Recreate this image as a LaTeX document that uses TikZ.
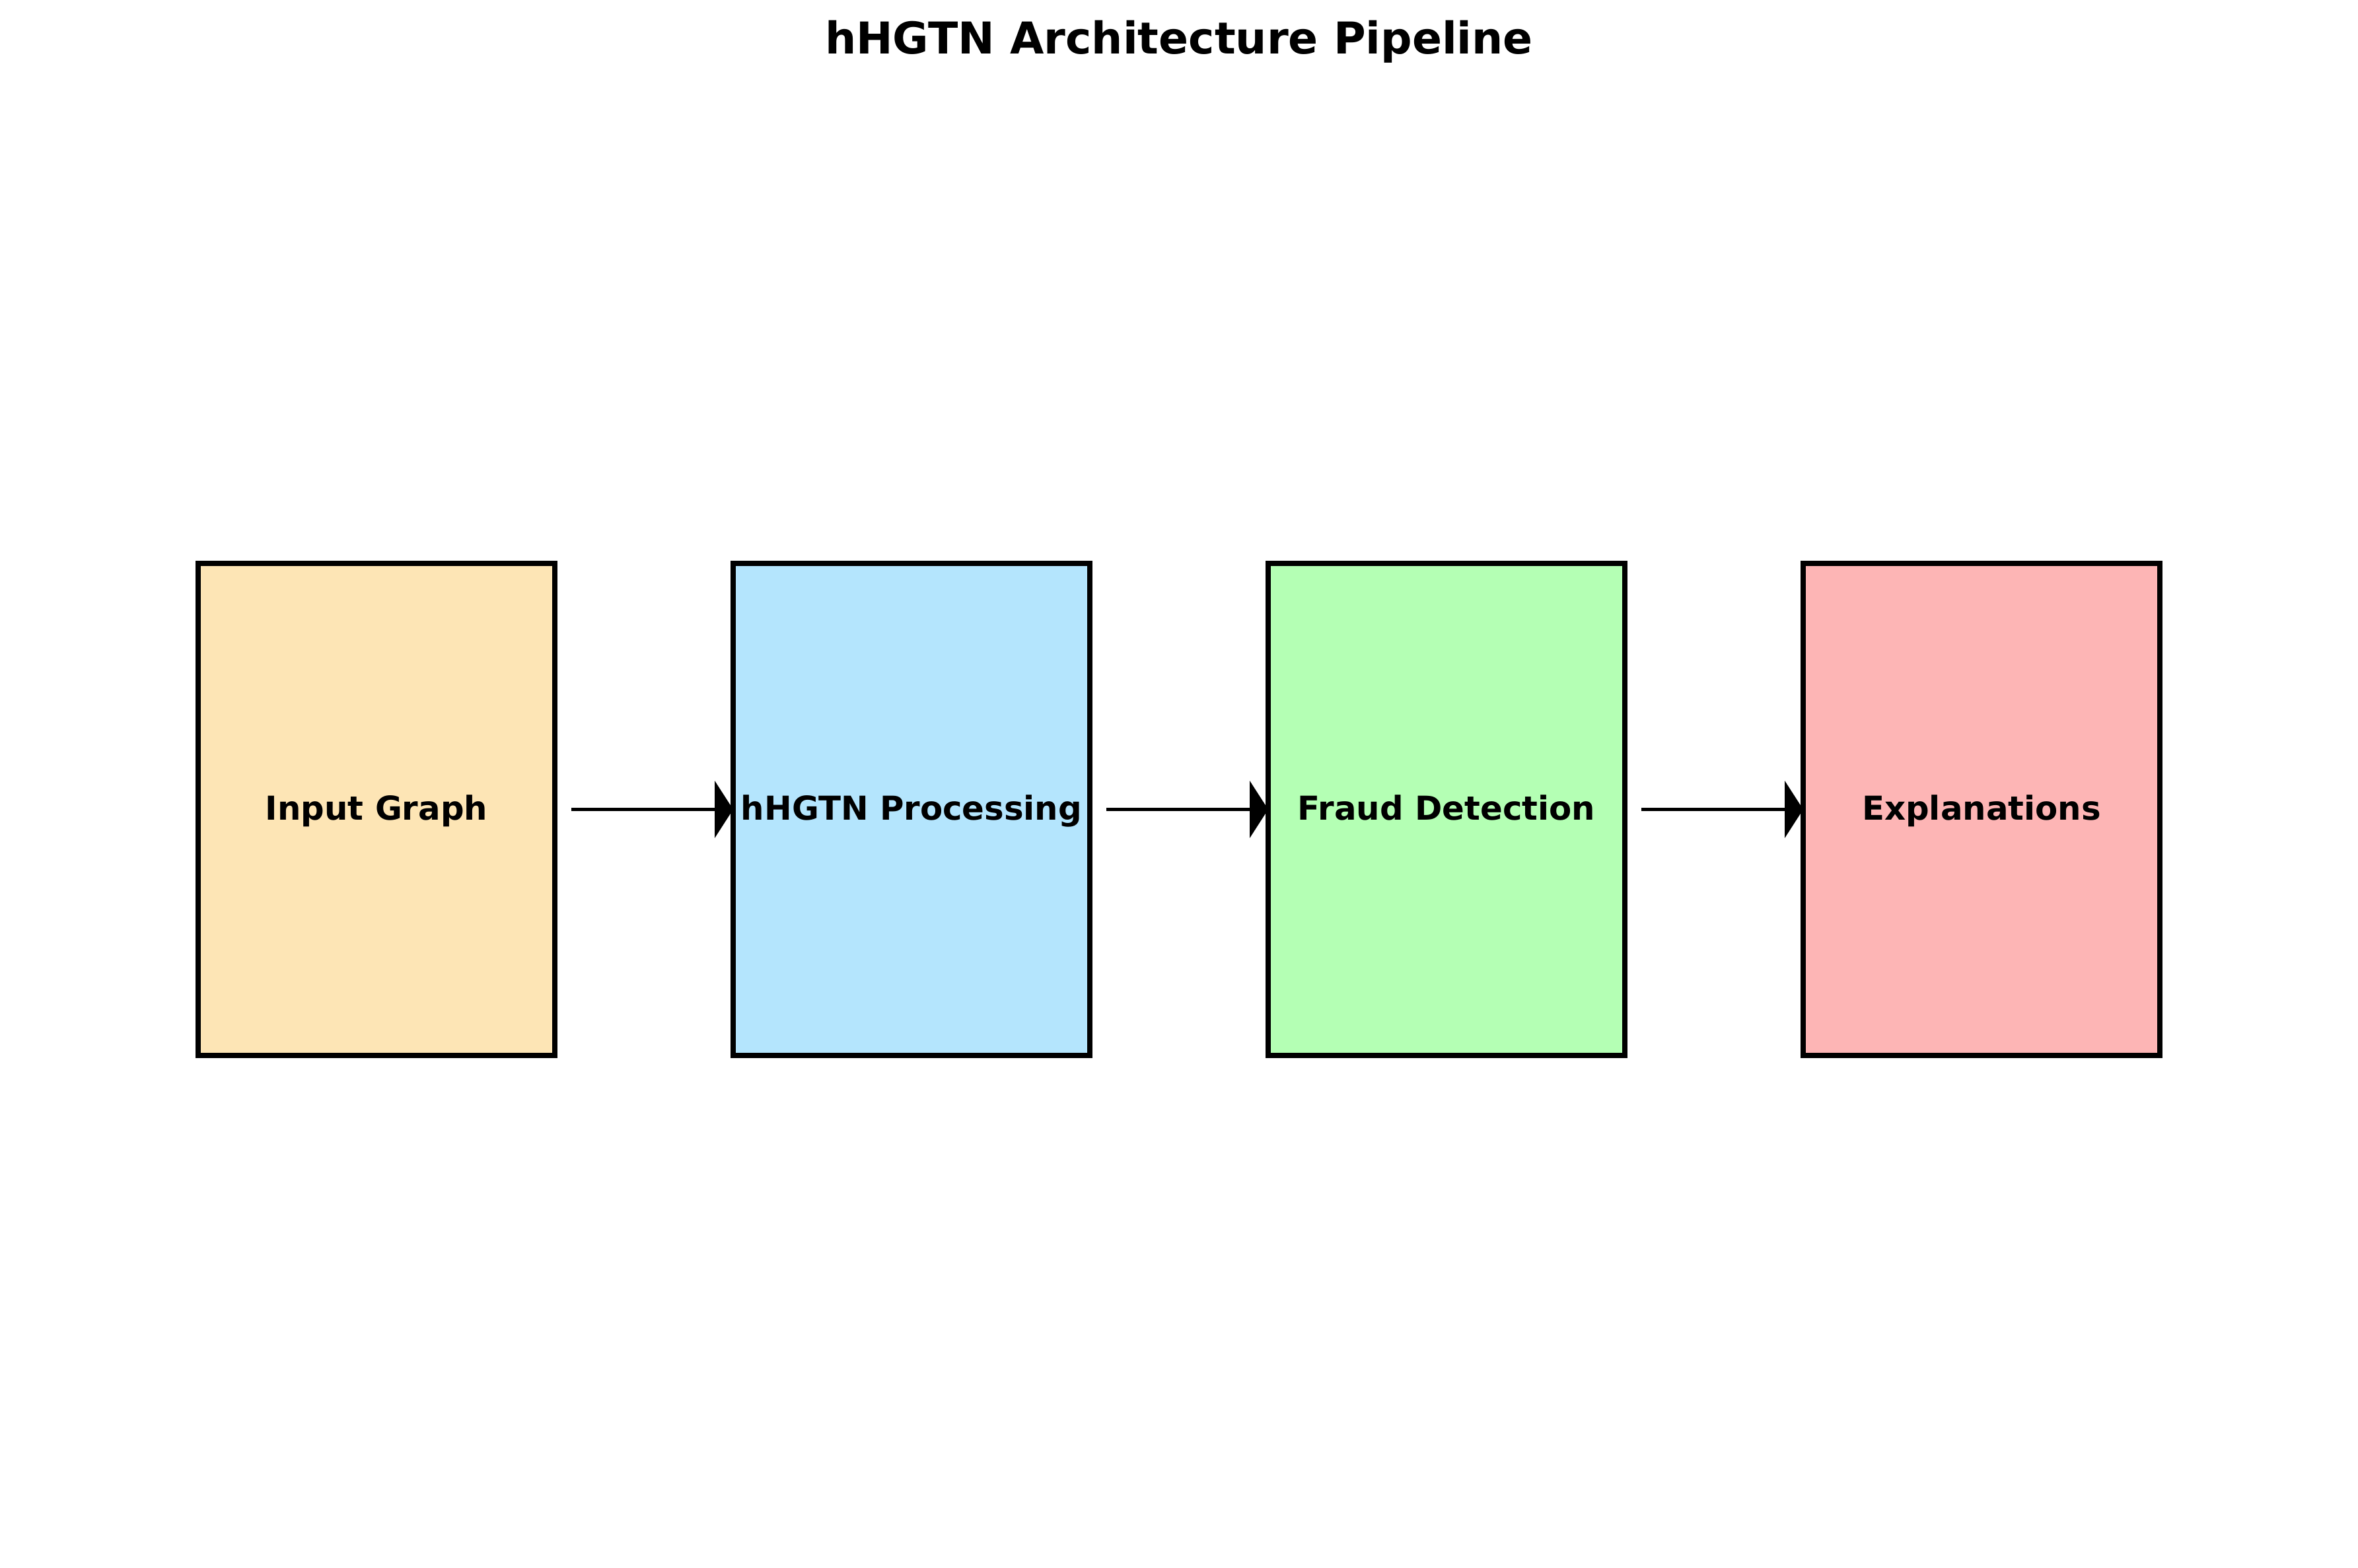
\documentclass[tikz,border=0pt]{standalone}
\usepackage{fontspec}
\setmainfont{DejaVu Sans}
\usetikzlibrary{arrows.meta}
\definecolor{cInput}{RGB}{253,229,181}
\definecolor{cProc}{RGB}{180,229,253}
\definecolor{cFraud}{RGB}{180,255,180}
\definecolor{cExpl}{RGB}{253,181,181}
\tikzset{
  stagebox/.style={draw=black, line width=0.083cm, minimum width=5.4cm, minimum height=7.45cm,
    inner sep=0pt, outer sep=0pt, text height=12pt, text depth=3pt,
    font=\fontsize{14.17pt}{17pt}\selectfont\bfseries, text=black},
  flowarrow/.style={line width=0.055cm, -{Triangle[length=0.28cm, width=0.86cm]}},
  titletext/.style={font=\fontsize{18.9pt}{22pt}\selectfont\bfseries, inner sep=0pt, anchor=base}
}
\begin{document}
\begin{tikzpicture}
\useasboundingbox (0,0) rectangle (35.70,23.74);
\node[titletext] (title) at (17.85,22.92) {hHGTN Architecture Pipeline};
\node[stagebox, fill=cInput] (b1) at (5.70,11.485) {Input Graph};
\node[stagebox, fill=cProc] (b2) at (13.80,11.485) {hHGTN Processing};
\node[stagebox, fill=cFraud] (b3) at (21.90,11.485) {Fraud Detection};
\node[stagebox, fill=cExpl] (b4) at (30.00,11.485) {Explanations};
\draw[flowarrow] ([xshift=0.25cm]b1.east) -- (b2.west);
\draw[flowarrow] ([xshift=0.25cm]b2.east) -- (b3.west);
\draw[flowarrow] ([xshift=0.25cm]b3.east) -- (b4.west);
\end{tikzpicture}
\end{document}
